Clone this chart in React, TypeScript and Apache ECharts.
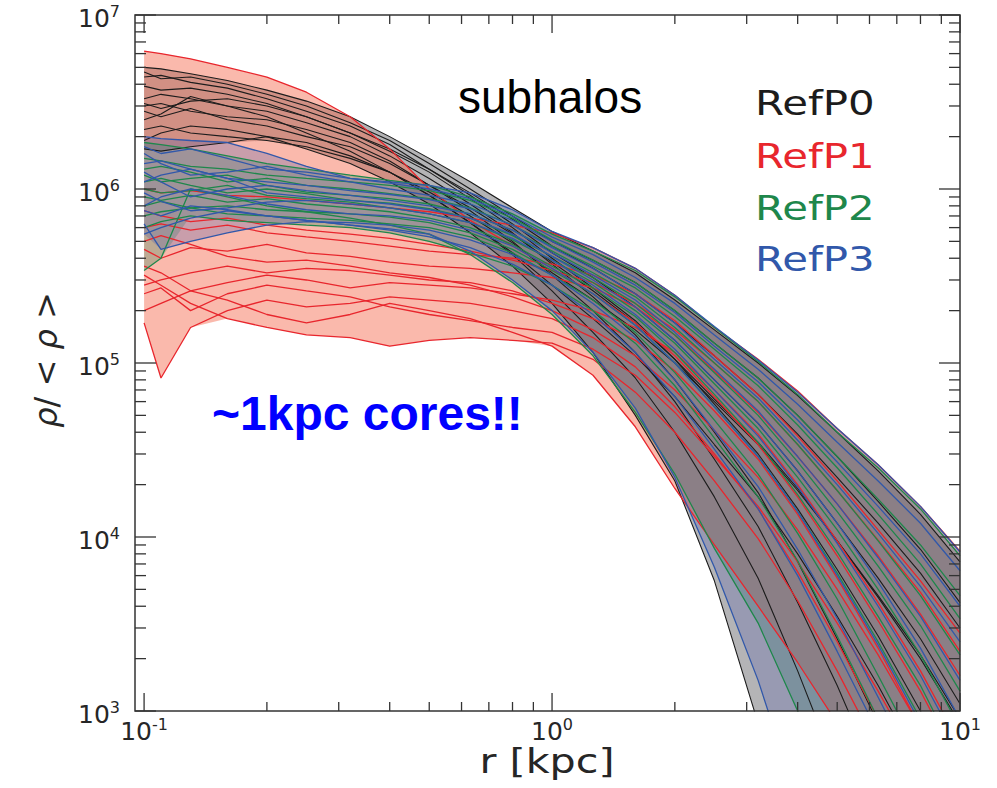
import React, { useEffect, useRef } from "react";
import * as echarts from "echarts";

// Radii (kpc) at which every density profile is sampled
const radii = [0.1, 0.11, 0.13, 0.16, 0.2, 0.25, 0.32, 0.4, 0.5, 0.63, 0.8, 1.0, 1.26, 1.6, 2.0, 2.5, 3.2, 4.0, 5.0, 6.3, 8.0, 10];

// rho/<rho> profiles; null = profile has already dropped out of the plotted range
const refP0Profiles: (number | null)[][] = [
  [5.0e6, 4.9e6, 4.6e6, 4.2e6, 3.7e6, 3.2e6, 2.6e6, 2.0e6, 1.5e6, 1.1e6, 7.8e5, 5.7e5, 4.4e5, 3.3e5, 2.3e5, 1.55e5, 1.0e5, 6.5e4, 4.0e4, 2.4e4, 1.35e4, 7.2e3],
  [4.7e6, 4.3e6, 4.4e6, 4.0e6, 3.5e6, 3.0e6, 2.4e6, 1.9e6, 1.4e6, 1.0e6, 7.0e5, 5.0e5, 3.9e5, 2.9e5, 2.0e5, 1.3e5, 8.2e4, 5.0e4, 2.9e4, 1.6e4, 8.5e3, 4.2e3],
  [4.4e6, 4.5e6, 4.1e6, 3.8e6, 3.3e6, 2.8e6, 2.3e6, 1.8e6, 1.3e6, 9.2e5, 6.3e5, 4.3e5, 3.1e5, 2.1e5, 1.35e5, 8.0e4, 4.5e4, 2.4e4, 1.2e4, 5.8e3, 2.6e3, 1.1e3],
  [3.9e6, 3.7e6, 3.8e6, 3.5e6, 3.1e6, 2.6e6, 2.1e6, 1.65e6, 1.25e6, 8.8e5, 6.0e5, 4.0e5, 2.7e5, 1.75e5, 1.05e5, 5.8e4, 3.0e4, 1.45e4, 6.5e3, 2.7e3, 1.0e3, 3.5e2],
  [3.3e6, 3.5e6, 3.3e6, 3.0e6, 2.8e6, 2.4e6, 2.0e6, 1.55e6, 1.15e6, 8.2e5, 5.6e5, 3.7e5, 2.4e5, 1.45e5, 8.0e4, 4.0e4, 1.8e4, 7.2e3, 2.6e3, 8.5e2, null, null],
  [3.1e6, 2.9e6, 3.2e6, 3.3e6, 3.0e6, 2.6e6, 2.1e6, 1.7e6, 1.3e6, 9.5e5, 6.7e5, 4.7e5, 3.5e5, 2.5e5, 1.7e5, 1.1e5, 6.6e4, 3.9e4, 2.2e4, 1.2e4, 6.2e3, 3.0e3],
  [3.0e6, 3.1e6, 2.8e6, 2.6e6, 2.5e6, 2.2e6, 1.85e6, 1.45e6, 1.05e6, 7.5e5, 5.0e5, 3.2e5, 2.0e5, 1.15e5, 6.0e4, 2.8e4, 1.15e4, 4.2e3, 1.4e3, 4.0e2, null, null],
  [2.8e6, 2.6e6, 2.9e6, 2.5e6, 2.3e6, 2.0e6, 1.75e6, 1.4e6, 1.05e6, 7.8e5, 5.5e5, 3.8e5, 2.6e5, 1.7e5, 1.05e5, 6.2e4, 3.5e4, 1.9e4, 9.5e3, 4.5e3, 2.0e3, 8.5e2],
  [2.5e6, 2.7e6, 3.4e6, 3.0e6, 2.6e6, 2.1e6, 1.65e6, 1.25e6, 9.2e5, 6.4e5, 4.3e5, 2.8e5, 1.8e5, 1.1e5, 6.4e4, 3.4e4, 1.7e4, 8.0e3, 3.5e3, 1.4e3, 5.0e2, null],
  [2.2e6, 2.3e6, 2.1e6, 2.0e6, 1.9e6, 1.75e6, 1.5e6, 1.25e6, 9.6e5, 7.0e5, 4.9e5, 3.3e5, 2.3e5, 1.55e5, 1.0e5, 6.0e4, 3.4e4, 1.85e4, 9.5e3, 4.6e3, 2.1e3, 9.0e2],
  [1.9e6, 2.1e6, 2.3e6, 2.2e6, 2.0e6, 1.7e6, 1.4e6, 1.1e6, 8.2e5, 5.6e5, 3.6e5, 2.2e5, 1.15e5, 5.0e4, 2.1e4, 5.6e3, 8.5e2, 1.2e2, null, null, null, null],
  [1.7e6, 1.65e6, 1.75e6, 1.85e6, 2.0e6, 1.85e6, 1.55e6, 1.25e6, 9.2e5, 6.4e5, 4.2e5, 2.6e5, 1.5e5, 8.2e4, 4.0e4, 1.7e4, 5.8e3, 1.7e3, 4.5e2, null, null, null],
];

const refP1Profiles: (number | null)[][] = [
  [6.2e6, 6.0e6, 5.6e6, 5.0e6, 4.4e6, 3.6e6, 2.6e6, 1.7e6, 1.0e6, 6.6e5, 4.7e5, 3.5e5, 2.5e5, 1.7e5, 1.1e5, 6.4e4, 3.4e4, 1.7e4, 7.8e3, 3.3e3, 1.3e3, 4.8e2],
  [1.0e6, 9.5e5, 9.8e5, 9.2e5, 9.0e5, 8.6e5, 8.2e5, 7.8e5, 7.4e5, 6.8e5, 6.2e5, 5.6e5, 4.6e5, 3.5e5, 2.45e5, 1.6e5, 1.05e5, 6.9e4, 4.2e4, 2.6e4, 1.5e4, 8.3e3],
  [6.0e5, 6.3e5, 5.8e5, 6.2e5, 5.6e5, 5.3e5, 5.0e5, 4.7e5, 4.4e5, 4.2e5, 4.0e5, 3.7e5, 3.2e5, 2.5e5, 1.75e5, 1.1e5, 6.6e4, 3.8e4, 2.1e4, 1.1e4, 5.6e3, 2.8e3],
  [4.5e5, 4.0e5, 4.6e5, 4.4e5, 4.8e5, 4.3e5, 4.1e5, 3.8e5, 3.6e5, 3.5e5, 3.3e5, 3.1e5, 2.7e5, 2.1e5, 1.45e5, 9.0e4, 5.2e4, 2.9e4, 1.55e4, 7.8e3, 3.6e3, 1.6e3],
  [3.6e5, 3.3e5, 2.6e5, 2.9e5, 3.2e5, 3.0e5, 2.7e5, 2.9e5, 2.8e5, 2.7e5, 2.5e5, 2.3e5, 2.0e5, 1.6e5, 1.15e5, 7.0e4, 3.9e4, 2.0e4, 9.5e3, 4.2e3, 1.7e3, 6.5e2],
  [2.8e5, 3.0e5, 3.3e5, 3.6e5, 3.3e5, 3.5e5, 3.4e5, 3.2e5, 3.0e5, 2.9e5, 2.6e5, 2.2e5, 1.8e5, 1.35e5, 9.0e4, 5.3e4, 2.8e4, 1.35e4, 5.8e3, 2.3e3, 8.0e2, null],
  [1.7e5, 8.2e4, 1.6e5, 2.0e5, 2.3e5, 2.1e5, 2.2e5, 2.4e5, 2.3e5, 2.2e5, 2.0e5, 1.8e5, 1.4e5, 9.5e4, 5.6e4, 3.0e4, 1.45e4, 6.3e3, 2.5e3, 9.0e2, null, null],
  [2.0e5, 2.2e5, 2.6e5, 2.3e5, 1.9e5, 1.7e5, 1.9e5, 2.2e5, 2.0e5, 1.8e5, 1.5e5, 1.25e5, 8.5e4, 4.3e4, 1.9e4, 9.0e3, 4.0e3, 1.9e3, 8.5e2, null, null, null],
  [3.2e5, 2.8e5, 2.2e5, 1.8e5, 1.6e5, 1.45e5, 1.4e5, 1.25e5, 1.35e5, 1.4e5, 1.35e5, 1.3e5, 1.05e5, 6.8e4, 4.0e4, 2.1e4, 9.8e3, 4.3e3, 1.7e3, 6.0e2, null, null],
  [5.0e5, 5.4e5, 4.8e5, 4.1e5, 3.8e5, 3.9e5, 3.6e5, 3.3e5, 3.1e5, 2.8e5, 2.4e5, 2.0e5, 1.55e5, 1.1e5, 7.0e4, 4.1e4, 2.2e4, 1.1e4, 5.0e3, 2.1e3, 8.0e2, null],
  [7.5e5, 7.0e5, 6.5e5, 6.8e5, 6.2e5, 5.8e5, 5.5e5, 5.2e5, 4.8e5, 4.4e5, 3.9e5, 3.4e5, 2.9e5, 2.2e5, 1.55e5, 1.0e5, 6.0e4, 3.4e4, 1.85e4, 9.6e3, 4.8e3, 2.2e3],
  [2.5e5, 2.7e5, 2.0e5, 2.5e5, 2.8e5, 2.6e5, 2.4e5, 2.1e5, 1.9e5, 1.75e5, 1.6e5, 1.5e5, 1.2e5, 8.5e4, 5.2e4, 2.9e4, 1.5e4, 7.2e3, 3.2e3, 1.3e3, 4.8e2, null],
];

const refP2Profiles: (number | null)[][] = [
  [1.85e6, 1.8e6, 1.7e6, 1.55e6, 1.4e6, 1.3e6, 1.2e6, 1.12e6, 1.05e6, 9.0e5, 7.2e5, 5.5e5, 4.4e5, 3.4e5, 2.4e5, 1.6e5, 1.02e5, 6.6e4, 4.0e4, 2.5e4, 1.45e4, 7.8e3],
  [1.5e6, 1.45e6, 1.35e6, 1.3e6, 1.2e6, 1.15e6, 1.1e6, 1.05e6, 9.8e5, 8.6e5, 6.8e5, 5.1e5, 3.9e5, 2.9e5, 2.0e5, 1.3e5, 8.2e4, 5.0e4, 2.9e4, 1.65e4, 9.0e3, 4.6e3],
  [1.3e6, 1.35e6, 1.25e6, 1.1e6, 1.15e6, 1.05e6, 1.0e6, 9.4e5, 8.8e5, 7.8e5, 6.2e5, 4.7e5, 3.6e5, 2.7e5, 1.85e5, 1.2e5, 7.4e4, 4.4e4, 2.5e4, 1.35e4, 7.0e3, 3.4e3],
  [1.2e6, 1.1e6, 1.15e6, 1.2e6, 1.05e6, 9.6e5, 9.2e5, 8.8e5, 8.2e5, 7.2e5, 5.8e5, 4.4e5, 3.3e5, 2.4e5, 1.6e5, 1.0e5, 6.0e4, 3.4e4, 1.85e4, 9.5e3, 4.6e3, 2.1e3],
  [1.1e6, 1.15e6, 1.05e6, 9.5e5, 1.0e6, 9.4e5, 8.6e5, 8.3e5, 7.7e5, 6.8e5, 5.4e5, 4.1e5, 3.1e5, 2.2e5, 1.45e5, 8.8e4, 5.0e4, 2.7e4, 1.4e4, 6.8e3, 3.1e3, 1.3e3],
  [1.0e6, 9.5e5, 9.8e5, 1.05e6, 9.2e5, 8.8e5, 8.4e5, 7.8e5, 7.2e5, 6.4e5, 5.1e5, 3.9e5, 2.9e5, 2.0e5, 1.3e5, 7.6e4, 4.2e4, 2.2e4, 1.1e4, 5.0e3, 2.1e3, 8.0e2],
  [9.0e5, 8.6e5, 9.2e5, 8.4e5, 8.8e5, 8.2e5, 7.8e5, 7.4e5, 6.8e5, 6.0e5, 4.8e5, 3.6e5, 2.7e5, 1.85e5, 1.15e5, 6.6e4, 3.5e4, 1.75e4, 8.2e3, 3.5e3, 1.4e3, 5.0e2],
  [8.0e5, 8.5e5, 7.8e5, 8.0e5, 7.6e5, 7.4e5, 7.2e5, 6.9e5, 6.4e5, 5.6e5, 4.5e5, 3.4e5, 2.5e5, 1.65e5, 1.0e5, 5.6e4, 2.9e4, 1.4e4, 6.2e3, 2.5e3, 9.0e2, null],
  [7.0e5, 7.4e5, 7.8e5, 7.2e5, 7.0e5, 6.8e5, 6.6e5, 6.3e5, 6.0e5, 5.3e5, 4.3e5, 3.2e5, 2.3e5, 1.5e5, 8.8e4, 4.7e4, 2.3e4, 1.05e4, 4.4e3, 1.6e3, 5.5e2, null],
  [6.0e5, 6.5e5, 7.0e5, 6.6e5, 6.4e5, 6.2e5, 6.0e5, 5.6e5, 5.0e5, 4.3e5, 3.6e5, 2.8e5, 2.0e5, 1.3e5, 7.4e4, 3.7e4, 1.7e4, 7.3e3, 2.7e3, 9.0e2, null, null],
  [3.4e5, 4.0e5, 1.0e6, 9.0e5, 8.0e5, 7.4e5, 6.8e5, 6.2e5, 5.5e5, 4.2e5, 2.9e5, 1.9e5, 1.1e5, 5.2e4, 2.3e4, 8.6e3, 3.2e3, 1.0e3, 3.0e2, null, null, null],
];

const refP3Profiles: (number | null)[][] = [
  [2.0e6, 1.95e6, 1.9e6, 1.85e6, 1.6e6, 1.35e6, 1.15e6, 1.1e6, 1.05e6, 9.5e5, 7.6e5, 5.7e5, 4.6e5, 3.5e5, 2.45e5, 1.62e5, 1.04e5, 6.8e4, 4.2e4, 2.6e4, 1.5e4, 8.2e3],
  [1.75e6, 1.6e6, 1.7e6, 1.5e6, 1.3e6, 1.25e6, 1.15e6, 1.08e6, 1.0e6, 8.8e5, 7.0e5, 5.3e5, 4.2e5, 3.1e5, 2.2e5, 1.45e5, 9.2e4, 5.8e4, 3.5e4, 2.1e4, 1.2e4, 6.4e3],
  [1.6e6, 1.4e6, 1.2e6, 1.25e6, 1.35e6, 1.2e6, 1.1e6, 1.0e6, 9.2e5, 8.2e5, 6.6e5, 5.0e5, 3.8e5, 2.8e5, 1.95e5, 1.25e5, 7.8e4, 4.7e4, 2.7e4, 1.5e4, 8.0e3, 4.0e3],
  [1.4e6, 1.45e6, 1.3e6, 1.15e6, 1.1e6, 1.05e6, 9.8e5, 9.3e5, 8.7e5, 7.7e5, 6.2e5, 4.6e5, 3.5e5, 2.5e5, 1.7e5, 1.05e5, 6.3e4, 3.6e4, 2.0e4, 1.05e4, 5.2e3, 2.5e3],
  [1.25e6, 1.1e6, 9.0e5, 1.0e6, 1.05e6, 9.8e5, 9.2e5, 8.6e5, 8.0e5, 7.2e5, 5.8e5, 4.3e5, 3.2e5, 2.3e5, 1.5e5, 9.2e4, 5.3e4, 2.9e4, 1.55e4, 7.6e3, 3.5e3, 1.5e3],
  [1.1e6, 1.2e6, 1.3e6, 1.15e6, 9.5e5, 9.0e5, 8.6e5, 8.2e5, 7.6e5, 6.8e5, 5.5e5, 4.1e5, 3.0e5, 2.1e5, 1.35e5, 8.0e4, 4.5e4, 2.4e4, 1.2e4, 5.5e3, 2.3e3, 9.0e2],
  [9.5e5, 8.5e5, 7.5e5, 7.8e5, 8.4e5, 8.6e5, 8.2e5, 7.8e5, 7.2e5, 6.4e5, 5.2e5, 3.9e5, 2.8e5, 1.9e5, 1.2e5, 7.0e4, 3.8e4, 1.95e4, 9.2e3, 4.0e3, 1.6e3, 6.0e2],
  [8.0e5, 9.0e5, 1.0e6, 9.2e5, 8.2e5, 7.6e5, 7.2e5, 7.0e5, 6.6e5, 5.8e5, 4.7e5, 3.5e5, 2.5e5, 1.65e5, 1.0e5, 5.6e4, 2.9e4, 1.4e4, 6.0e3, 2.4e3, 8.5e2, null],
  [6.3e5, 4.5e5, 5.0e5, 5.6e5, 6.2e5, 6.5e5, 6.4e5, 6.2e5, 5.8e5, 5.1e5, 4.2e5, 3.2e5, 2.2e5, 1.4e5, 8.0e4, 4.1e4, 1.95e4, 8.5e3, 3.4e3, 1.2e3, 4.0e2, null],
  [5.5e5, 6.0e5, 6.8e5, 7.5e5, 7.0e5, 6.6e5, 6.2e5, 5.8e5, 5.3e5, 4.6e5, 3.7e5, 2.8e5, 1.9e5, 1.15e5, 6.4e4, 3.2e4, 1.45e4, 6.0e3, 2.2e3, 7.5e2, null, null],
  [7.5e5, 7.0e5, 8.0e5, 7.6e5, 7.0e5, 6.6e5, 6.2e5, 5.9e5, 5.5e5, 4.4e5, 3.0e5, 2.0e5, 1.15e5, 5.5e4, 2.2e4, 6.7e3, 1.5e3, 3.0e2, null, null, null, null],
];

const runLabels = ["RefP0", "RefP1", "RefP2", "RefP3"];
const runProfiles = [refP0Profiles, refP1Profiles, refP2Profiles, refP3Profiles];
const lineColors = ["#1c1c1c", "#e8262d", "#1e874b", "#3158aa"];
const bandColors = ["rgba(105,105,110,0.5)", "rgba(245,100,70,0.45)", "rgba(50,135,90,0.3)", "rgba(90,95,170,0.3)"];

// Axis ticks
const xMajorTicks = [0.1, 1, 10];
const yMajorTicks = [1e3, 1e4, 1e5, 1e6, 1e7];
const minorSteps = [2, 3, 4, 5, 6, 7, 8, 9];

const FONT = '"DejaVu Sans", sans-serif';

function envelope(profiles: (number | null)[][]) {
  const lower: number[] = [];
  const upper: number[] = [];
  radii.forEach((_, i) => {
    const column = profiles.map((p) => p[i]);
    const present = column.filter((v) => v != null) as number[];
    upper.push(Math.max(...present));
    // a profile that has left the plot keeps the band open below the axis
    lower.push(present.length < column.length ? 10 : Math.min(...present));
  });
  return { lower, upper };
}

function powerLabel(v: number) {
  const e = Math.log10(v);
  const k = Math.round(e);
  if (Math.abs(e - k) > 1e-6) return "";
  return `{b|10}{e|${k}}`;
}

const labelRich = {
  b: { fontFamily: FONT, fontSize: 25, color: "#262626", lineHeight: 30 },
  e: { fontFamily: FONT, fontSize: 16, color: "#262626", lineHeight: 16, verticalAlign: "top" },
};

export default function App() {
  const ref = useRef<HTMLDivElement>(null);

  useEffect(() => {
    const chart = echarts.init(ref.current!, null, { renderer: "svg" });

    const bandSeries = runProfiles.map((profiles, g) => {
      const env = envelope(profiles);
      return {
        type: "custom",
        name: runLabels[g] + " band",
        coordinateSystem: "cartesian2d",
        clip: true,
        silent: true,
        z: 1,
        data: [[1, 1e5]],
        renderItem: (_params: any, api: any) => {
          const top = env.upper.map((v, i) => api.coord([radii[i], v]));
          const bottom = env.lower.map((v, i) => api.coord([radii[i], v])).reverse();
          return {
            type: "polygon",
            shape: { points: top.concat(bottom) },
            style: { fill: bandColors[g], stroke: "none" },
          };
        },
      };
    });

    const lineSeries: any[] = [];
    runProfiles.forEach((profiles, g) => {
      profiles.forEach((p, k) => {
        lineSeries.push({
          type: "line",
          name: `${runLabels[g]}-${k}`,
          data: radii.map((r, i) => [r, p[i] == null ? "-" : p[i]]),
          showSymbol: false,
          symbol: "none",
          silent: true,
          clip: true,
          z: 2 + g,
          lineStyle: { color: lineColors[g], width: g === 0 ? 1.1 : 1.3 },
        });
      });
    });

    const xMinorTicks = [0.1, 1].flatMap((d) => minorSteps.map((m) => m * d));
    const yMinorTicks = [1e3, 1e4, 1e5, 1e6].flatMap((d) => minorSteps.map((m) => m * d));

    const frameSeries = {
      type: "custom",
      name: "frame",
      coordinateSystem: "cartesian2d",
      silent: true,
      z: 10,
      data: [[1, 1e5]],
      renderItem: (params: any, api: any) => {
        const cs = params.coordSys;
        const left = cs.x;
        const top = cs.y;
        const right = cs.x + cs.width;
        const bottom = cs.y + cs.height;
        const children: any[] = [];
        const style = { stroke: "#333", lineWidth: 1.3 };
        const seg = (x1: number, y1: number, x2: number, y2: number) =>
          children.push({ type: "line", shape: { x1, y1, x2, y2 }, style });
        xMajorTicks.forEach((v) => {
          const x = api.coord([v, 1e5])[0];
          seg(x, bottom, x, bottom - 18);
          seg(x, top, x, top + 18);
        });
        xMinorTicks.forEach((v) => {
          const x = api.coord([v, 1e5])[0];
          seg(x, bottom, x, bottom - 9);
          seg(x, top, x, top + 9);
        });
        yMajorTicks.forEach((v) => {
          const y = api.coord([1, v])[1];
          seg(left, y, left + 21, y);
          seg(right, y, right - 21, y);
        });
        yMinorTicks.forEach((v) => {
          const y = api.coord([1, v])[1];
          seg(left, y, left + 11, y);
          seg(right, y, right - 11, y);
        });
        children.push({
          type: "rect",
          shape: { x: left, y: top, width: cs.width, height: cs.height },
          style: { fill: "none", stroke: "#333", lineWidth: 1.5 },
        });
        return { type: "group", children };
      },
    };

    const legendTops = [103.5, 157, 209, 260];

    chart.setOption({
      animation: false,
      backgroundColor: "#ffffff",
      textStyle: { fontFamily: FONT },
      grid: { left: 135, right: 37, top: 15, bottom: 77, show: false },
      xAxis: {
        type: "log",
        logBase: 10,
        min: 0.095,
        max: 10,
        axisLine: { show: false },
        axisTick: { show: false },
        splitLine: { show: false },
        axisLabel: { margin: 5, formatter: powerLabel, rich: labelRich },
      },
      yAxis: {
        type: "log",
        logBase: 10,
        min: 1e3,
        max: 1e7,
        axisLine: { show: false },
        axisTick: { show: false },
        splitLine: { show: false },
        axisLabel: { margin: 15, padding: [7, 0, 0, 0], formatter: powerLabel, rich: labelRich },
      },
      series: [...bandSeries, ...lineSeries, frameSeries],
      graphic: [
        ...runLabels.map((label, g) => ({
          type: "text",
          x: 755,
          y: legendTops[g],
          scaleX: 1.27,
          z: 100,
          style: {
            text: label,
            fill: lineColors[g],
            font: `33px ${FONT}`,
            align: "left",
            textAlign: "left",
            verticalAlign: "middle",
            textVerticalAlign: "middle",
          },
        })),
        {
          type: "text",
          x: 458,
          y: 97,
          z: 100,
          style: {
            text: "subhalos",
            fill: "#000",
            font: '46px "Liberation Sans", Arial, sans-serif',
            verticalAlign: "middle",
            textVerticalAlign: "middle",
          },
        },
        {
          type: "text",
          x: 212,
          y: 413,
          z: 100,
          style: {
            text: "~1kpc cores!!",
            fill: "#0000ff",
            font: 'bold 48px "Liberation Sans", Arial, sans-serif',
            verticalAlign: "middle",
            textVerticalAlign: "middle",
          },
        },
        {
          type: "text",
          x: 547,
          y: 762,
          scaleX: 1.25,
          z: 100,
          style: {
            text: "r [kpc]",
            fill: "#262626",
            font: `33px ${FONT}`,
            align: "center",
            textAlign: "center",
            verticalAlign: "middle",
            textVerticalAlign: "middle",
          },
        },
        {
          type: "text",
          x: 46,
          y: 360,
          rotation: Math.PI / 2,
          z: 100,
          style: {
            text: "{i|ρ}/ < {i|ρ} >",
            fill: "#262626",
            font: `32px ${FONT}`,
            align: "center",
            textAlign: "center",
            verticalAlign: "middle",
            textVerticalAlign: "middle",
            rich: { i: { fontFamily: FONT, fontSize: 32, fontStyle: "italic", fill: "#262626" } },
          },
        },
      ],
    });

    return () => chart.dispose();
  }, []);

  return (
    <div
      ref={ref}
      style={{ position: "absolute", left: 0, top: 0, width: 997, height: 788, background: "#fff" }}
    />
  );
}
